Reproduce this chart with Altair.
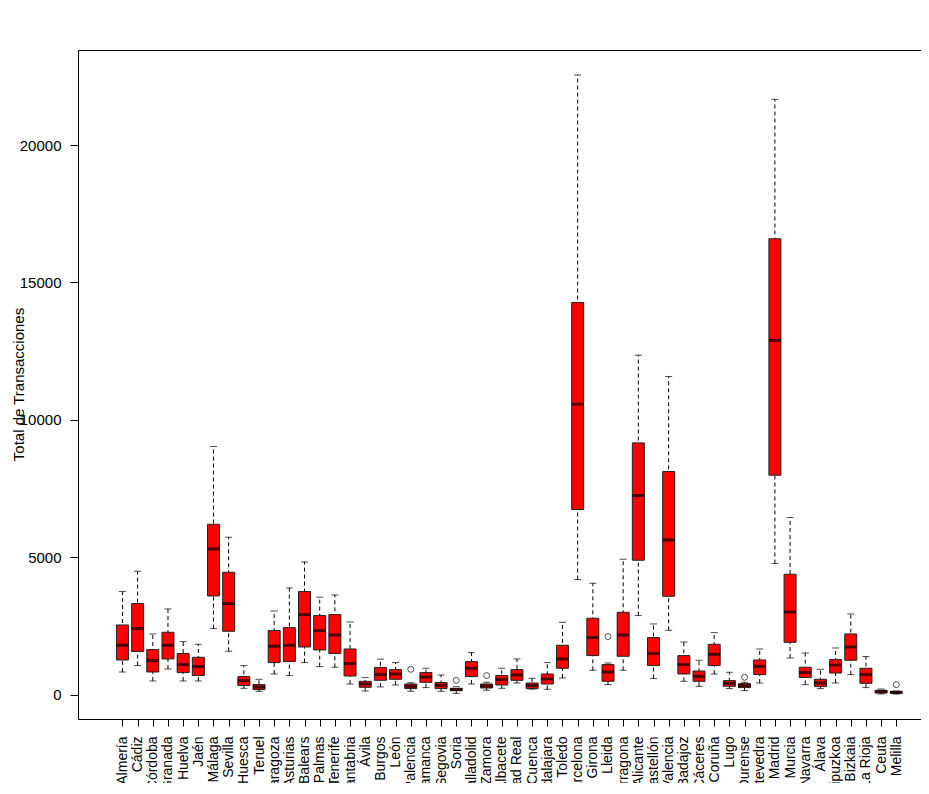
import json
import altair as alt
import pandas as pd

provincias = [
    "Almería", "Cádiz", "Córdoba", "Granada", "Huelva", "Jaén", "Málaga", "Sevilla",
    "Huesca", "Teruel", "Zaragoza", "Asturias", "Balears", "Las Palmas", "Tenerife",
    "Cantabria", "Ávila", "Burgos", "León", "Palencia", "Salamanca", "Segovia", "Soria",
    "Valladolid", "Zamora", "Albacete", "Ciudad Real", "Cuenca", "Guadalajara", "Toledo",
    "Barcelona", "Girona", "Lleida", "Tarragona", "Alicante", "Castellón", "Valencia",
    "Badajoz", "Cáceres", "Coruña", "Lugo", "Ourense", "Pontevedra", "Madrid", "Murcia",
    "Navarra", "Álava", "Gipuzkoa", "Bizkaia", "La Rioja", "Ceuta", "Melilla",
]

bigote_inf = [823, 1056, 496, 933, 496, 496, 2403, 1577, 229, 120, 750, 692, 1165, 1019, 994,
              386, 131, 280, 350, 120, 255, 120, 47, 386, 157, 229, 422, 200, 193, 605,
              4187, 885, 364, 885, 2876, 583, 2341, 484, 302, 750, 218, 146, 422, 4770, 1333,
              364, 218, 422, 728, 255, 22, 20]
q1 = [1260, 1565, 823, 1297, 801, 692, 3590, 2305, 328, 182, 1165, 1201, 1733, 1624, 1493,
      677, 266, 520, 557, 218, 448, 218, 146, 655, 240, 350, 521, 218, 386, 958,
      6736, 1420, 484, 1395, 4890, 1056, 3579, 750, 484, 1056, 302, 255, 728, 7985, 1904,
      619, 291, 786, 1249, 411, 58, 47]
mediana = [1795, 2403, 1238, 1795, 1092, 1019, 5301, 3313, 510, 277, 1759, 1795, 2913, 2330, 2170,
           1129, 386, 735, 750, 302, 641, 339, 182, 958, 313, 546, 714, 328, 568, 1297,
           10570, 2075, 823, 2170, 7246, 1493, 5629, 1092, 666, 1467, 411, 328, 1030, 12889, 3007,
           801, 422, 1078, 1733, 728, 109, 84]
q3 = [2534, 3313, 1638, 2268, 1493, 1358, 6200, 4453, 655, 364, 2330, 2439, 3750, 2876, 2913,
      1660, 484, 990, 910, 386, 801, 437, 229, 1201, 386, 692, 910, 422, 750, 1795,
      14273, 2778, 1092, 2997, 9161, 2075, 8120, 1420, 859, 1831, 510, 400, 1260, 16589, 4380,
      994, 557, 1274, 2207, 958, 157, 109]
bigote_sup = [3750, 4489, 2207, 3117, 1930, 1831, 9030, 5727, 1056, 557, 3044, 3881, 4828, 3543, 3627,
              2643, 619, 1290, 1165, 430, 958, 714, 290, 1529, 450, 958, 1297, 593, 1165, 2632,
              22549, 4052, 1150, 4926, 12354, 2571, 11578, 1915, 1249, 2257, 812, 450, 1660, 21664, 6444,
              1515, 921, 1697, 2935, 1384, 204, 130]

atipico_provincia = ["Palencia", "Soria", "Zamora", "Lleida", "Ourense", "Melilla"]
atipico_valor = [921, 521, 692, 2112, 630, 364]

df = pd.DataFrame({
    "idx": list(range(1, len(provincias) + 1)),
    "provincia": provincias,
    "lo": bigote_inf,
    "q1": q1,
    "med": mediana,
    "q3": q3,
    "hi": bigote_sup,
})
out = pd.DataFrame({
    "idx": [provincias.index(p) + 1 for p in atipico_provincia],
    "provincia": atipico_provincia,
    "valor": atipico_valor,
})

names_js = json.dumps(provincias, ensure_ascii=False)

xscale = alt.Scale(domain=[-1.6, 53.3], nice=False, zero=False)
yscale = alt.Scale(domain=[-888, 23459], nice=False, zero=False)

xaxis = alt.Axis(
    title=None,
    values=list(range(1, len(provincias) + 1)),
    labelExpr=f"{names_js}[datum.value - 1]",
    labelAngle=270,
    labelFontSize=14,
    labelColor="#000000",
    labelPadding=10,
    labelOverlap=False,
    labelBound=False,
    labelFlush=False,
    labelLimit=400,
    tickSize=7,
    tickColor="#000000",
    domain=True,
    domainColor="#000000",
    domainWidth=1,
    grid=False,
)
xaxis_top = alt.Axis(
    orient="top",
    title=None,
    labels=False,
    ticks=False,
    domain=True,
    domainColor="#000000",
    domainWidth=1,
    grid=False,
)
yaxis = alt.Axis(
    title="Total de Transacciones",
    values=[0, 5000, 10000, 15000, 20000],
    format="d",
    labelFontSize=15,
    labelColor="#000000",
    labelPadding=9,
    tickSize=8,
    tickColor="#000000",
    domain=True,
    domainColor="#000000",
    domainWidth=1,
    grid=False,
    titleFontSize=15,
    titleFontWeight="normal",
    titleColor="#000000",
    titleAngle=270,
    titleX=-60,
    titleY=334,
    titleAlign="center",
    titleBaseline="middle",
)

base = alt.Chart(df)
X_bottom = alt.X("idx:Q", scale=xscale, axis=xaxis)
X_top = alt.X("idx:Q", scale=xscale, axis=xaxis_top)
X_none = alt.X("idx:Q", scale=xscale, axis=None)

whisker = base.mark_rule(color="#000000", strokeWidth=1, strokeDash=[4, 3]).encode(
    x=X_top,
    y=alt.Y("lo:Q", scale=yscale, axis=yaxis),
    y2="hi:Q",
)
cap_lo = base.mark_tick(orient="horizontal", size=7, thickness=1, color="#000000").encode(
    x=X_none, y=alt.Y("lo:Q", scale=yscale, axis=yaxis)
)
cap_hi = base.mark_tick(orient="horizontal", size=7, thickness=1, color="#000000").encode(
    x=X_none, y=alt.Y("hi:Q", scale=yscale, axis=yaxis)
)
box = base.mark_bar(size=12, fill="#FF0000", stroke="#222222", strokeWidth=1).encode(
    x=X_bottom,
    y=alt.Y("q1:Q", scale=yscale, axis=yaxis),
    y2="q3:Q",
)
median = base.mark_tick(orient="horizontal", size=12, thickness=3, color="#000000").encode(
    x=X_none, y=alt.Y("med:Q", scale=yscale, axis=yaxis)
)
outliers = alt.Chart(out).mark_point(
    shape="circle", filled=False, size=36, stroke="#000000", strokeWidth=1, fill="#FFFFFF"
).encode(
    x=X_none, y=alt.Y("valor:Q", scale=yscale, axis=yaxis)
)

chart = alt.layer(whisker, cap_lo, cap_hi, box, median, outliers).resolve_axis(
    x="independent"
).properties(
    width=843,
    height=669,
    title=alt.TitleParams(
        "Segunda mano", fontSize=18, fontWeight="bold", color="#000000",
        anchor="middle", baseline="alphabetic", offset=29, dx=10,
    ),
    autosize=alt.AutoSizeParams(type="none"),
    padding={"left": 70, "top": 42, "right": 0, "bottom": 64},
).configure(
    font="Liberation Sans",
).configure_view(
    strokeWidth=0,
)

chart.save("out.html", embed_options={"renderer": "svg", "actions": False})
